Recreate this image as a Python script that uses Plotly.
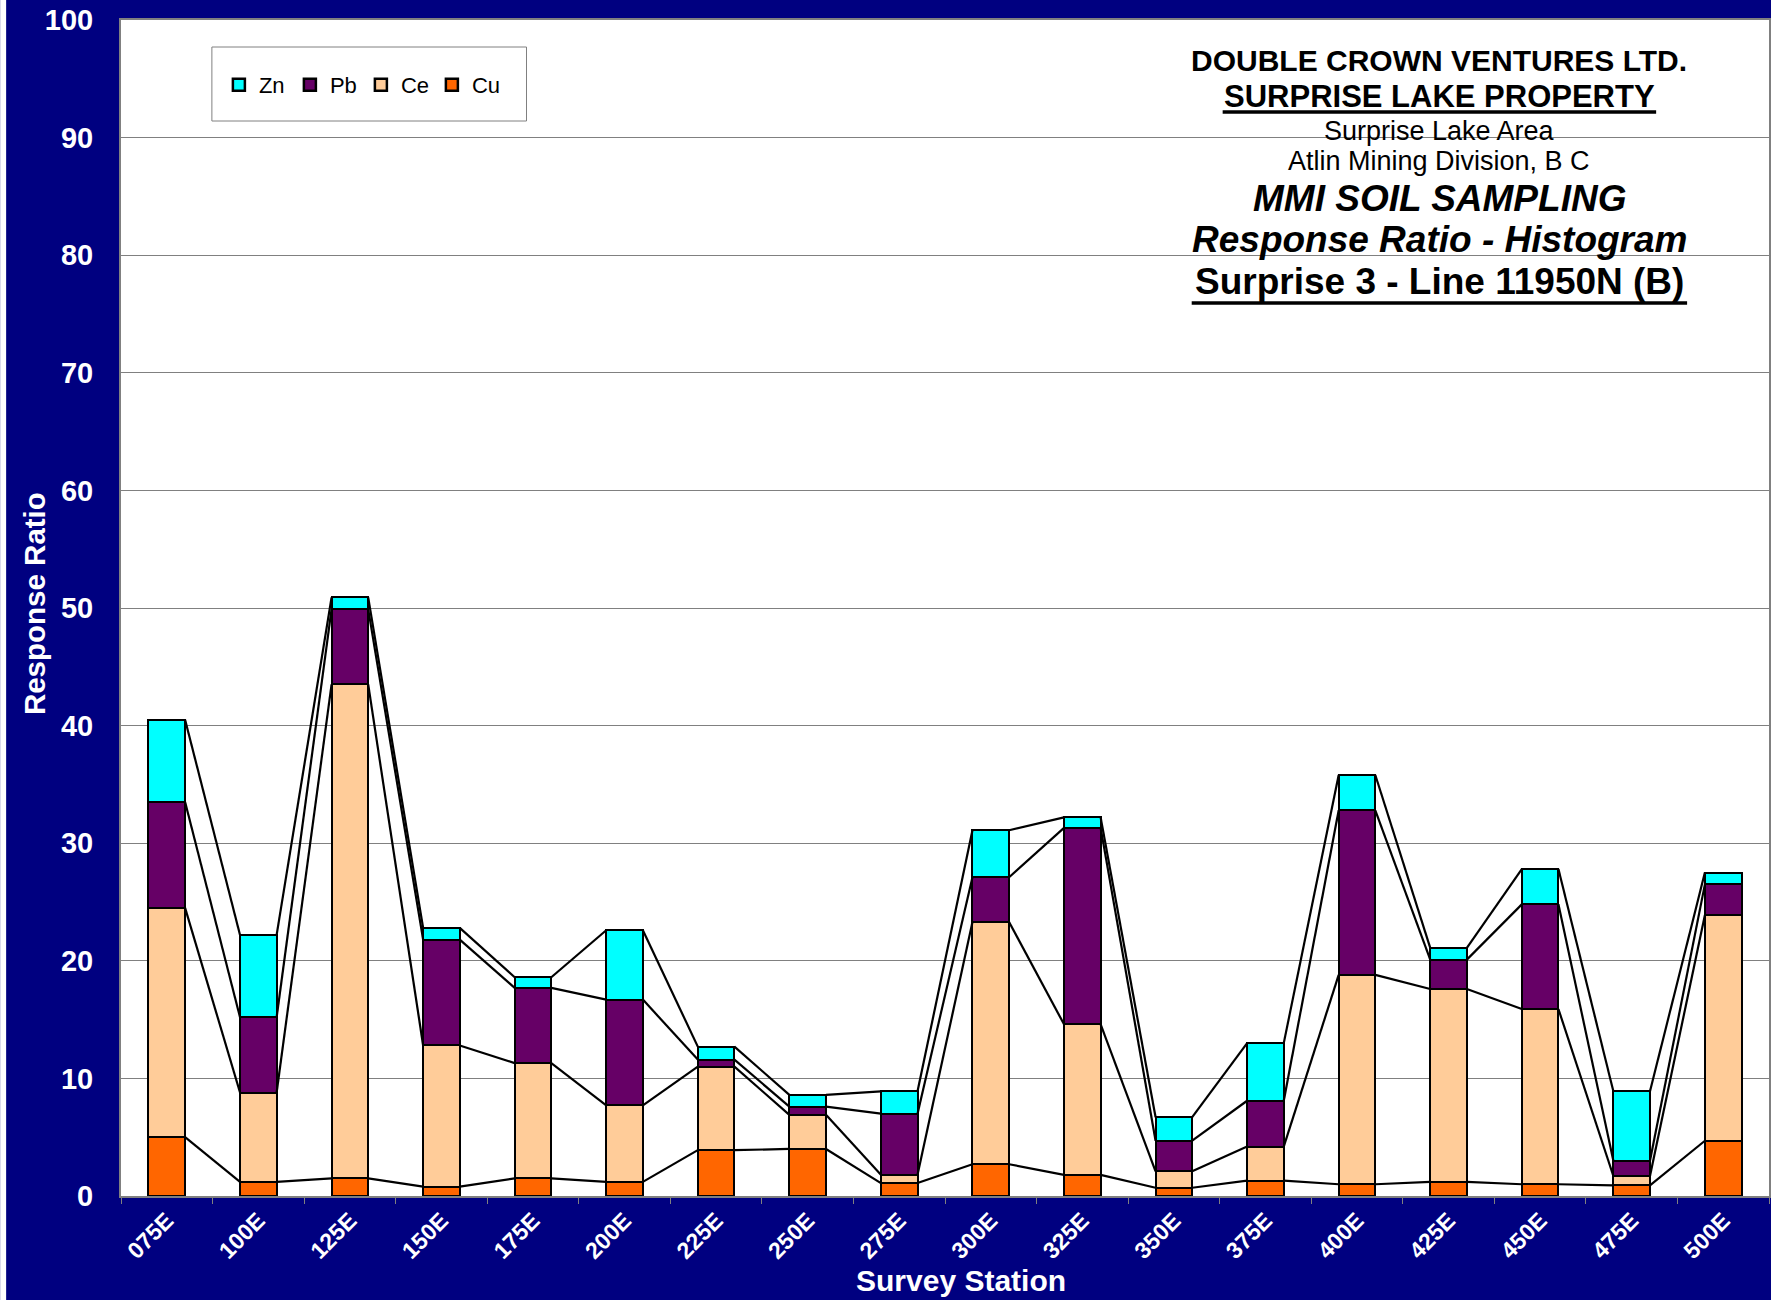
import numpy as np
import plotly.graph_objects as go

# Survey stations along Line 11950N (B)
stations = ["075E", "100E", "125E", "150E", "175E", "200E", "225E", "250E", "275E",
            "300E", "325E", "350E", "375E", "400E", "425E", "450E", "475E", "500E"]

# MMI response ratios per element (stacked bottom to top: Cu, Ce, Pb, Zn)
cu = [5.0, 1.2, 1.5, 0.8, 1.5, 1.2, 3.9, 4.0, 1.1, 2.7, 1.8, 0.7, 1.3, 1.0, 1.2, 1.0, 0.9, 4.7]
ce = [19.5, 7.6, 42.0, 12.0, 9.8, 6.5, 7.1, 2.9, 0.7, 20.6, 12.8, 1.4, 2.9, 17.8, 16.4, 14.9, 0.8, 19.2]
pb = [9.0, 6.4, 6.4, 9.0, 6.4, 9.0, 0.6, 0.7, 5.2, 3.8, 16.7, 2.6, 3.9, 14.0, 2.5, 8.9, 1.3, 2.6]
zn = [7.0, 7.0, 1.0, 1.0, 0.9, 5.9, 1.1, 1.0, 1.9, 4.0, 0.9, 2.0, 4.9, 3.0, 1.0, 3.0, 5.9, 1.0]

y_ticks = list(range(0, 101, 10))

series = [("Cu", cu, "#FF6600"), ("Ce", ce, "#FFCC99"),
          ("Pb", pb, "#660066"), ("Zn", zn, "#00FFFF")]

NAVY = "#000080"
FONT = "Arial, 'Liberation Sans', sans-serif"
BAR_W = 0.4

# figure geometry (pixels)
W, H = 1771, 1300
L, R, T, B = 121, 1771, 20, 1196


def xp(px):
    return (px - L) / (R - L)


def yp(py):
    return (B - py) / (B - T)


xpos = np.arange(len(stations))
fig = go.Figure()

for name, vals, color in series:
    fig.add_trace(go.Bar(
        x=xpos, y=vals, name=name, width=BAR_W,
        marker=dict(color=color, line=dict(color="black", width=2.5)),
    ))

# series lines joining the top of each stacked segment between neighbouring bars
cum = np.cumsum(np.array([s[1] for s in series]), axis=0)
for level in cum:
    lx, ly = [], []
    for i in range(len(stations) - 1):
        lx += [xpos[i] + BAR_W / 2, xpos[i + 1] - BAR_W / 2, None]
        ly += [level[i], level[i + 1], None]
    fig.add_trace(go.Scatter(x=lx, y=ly, mode="lines", showlegend=False,
                             hoverinfo="skip",
                             line=dict(color="black", width=2.2)))

TITLE_X = 1441
title_lines = [
    ("<b>DOUBLE CROWN VENTURES LTD.</b>", 30, 61),
    ("<b>SURPRISE LAKE PROPERTY</b>", 31, 97),
    ("Surprise Lake Area", 27, 131),
    ("Atlin Mining Division, B C", 27, 161),
    ("<b><i>MMI SOIL SAMPLING</i></b>", 37, 198),
    ("<b><i>Response Ratio - Histogram</i></b>", 37, 240),
    ("<b>Surprise 3 - Line 11950N (B)</b>", 37, 282),
]
annotations = []
for txt, size, y in title_lines:
    annotations.append(dict(
        text=txt, xref="paper", yref="paper", x=xp(TITLE_X), y=yp(y),
        xanchor="center", yanchor="middle", showarrow=False,
        font=dict(family=FONT, size=size, color="black")))

annotations.append(dict(
    text="<b>Response Ratio</b>", xref="paper", yref="paper",
    x=xp(34), y=yp(604), xanchor="center", yanchor="middle",
    textangle=-90, showarrow=False,
    font=dict(family=FONT, size=29.5, color="white")))
annotations.append(dict(
    text="<b>Survey Station</b>", xref="paper", yref="paper",
    x=xp(962), y=yp(1280), xanchor="center", yanchor="middle",
    showarrow=False, font=dict(family=FONT, size=30, color="white")))

shapes = [
    # legend frame
    dict(type="rect", xref="paper", yref="paper",
         x0=xp(212), x1=xp(527), y0=yp(121), y1=yp(47),
         line=dict(color="#808080", width=1), fillcolor="white", layer="below"),
    # underlines of the property name and line name
    dict(type="line", xref="paper", yref="paper",
         x0=xp(1224), x1=xp(1658), y0=yp(112), y1=yp(112),
         line=dict(color="black", width=3.5)),
    dict(type="line", xref="paper", yref="paper",
         x0=xp(1193), x1=xp(1689), y0=yp(303), y1=yp(303),
         line=dict(color="black", width=3.5)),
    # white strip along the left edge of the page
    dict(type="rect", xref="paper", yref="paper",
         x0=xp(0), x1=xp(6), y0=yp(H), y1=yp(0),
         line=dict(width=0), fillcolor="white", layer="above"),
]

fig.update_layout(
    width=W, height=H,
    margin=dict(l=L, r=W - R, t=T, b=H - B, pad=0),
    paper_bgcolor=NAVY, plot_bgcolor="white",
    barmode="stack", bargap=0,
    font=dict(family=FONT),
    showlegend=True,
    legend=dict(orientation="h", traceorder="reversed",
                x=xp(219), y=yp(85), xanchor="left", yanchor="middle",
                bgcolor="rgba(0,0,0,0)", borderwidth=0,
                entrywidth=26, entrywidthmode="pixels",
                font=dict(family=FONT, size=22, color="black")),
    xaxis=dict(range=[-0.5, len(stations) - 0.5],
               tickmode="array", tickvals=xpos, ticktext=stations,
               tickangle=-45, ticks="",
               tickfont=dict(family=FONT, size=23, color="white", weight="bold"),
               showgrid=False, zeroline=False,
               showline=True, linecolor="#808080", linewidth=2, mirror=True,
               minor=dict(tick0=0.5, dtick=1, ticks="outside", ticklen=6,
                          tickcolor="#808080", tickwidth=1, showgrid=False),
               fixedrange=True),
    yaxis=dict(range=[0, 100], tickmode="array", tickvals=y_ticks,
               ticks="", ticklabelstandoff=20,
               tickfont=dict(family=FONT, size=29, color="white", weight="bold"),
               showgrid=True, gridcolor="#808080", gridwidth=1,
               zeroline=False,
               showline=True, linecolor="#808080", linewidth=2, mirror=True,
               fixedrange=True),
    annotations=annotations,
    shapes=shapes,
)

fig.write_html("out.html")
